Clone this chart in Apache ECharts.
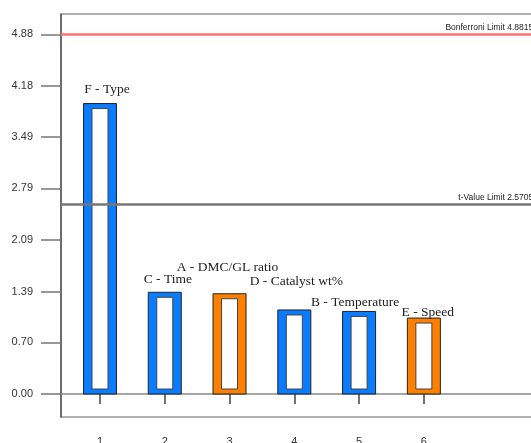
<!DOCTYPE html>
<html>
<head>
<meta charset="utf-8">
<script src="https://cdn.jsdelivr.net/npm/echarts@6/dist/echarts.min.js"></script>
<style>html,body{margin:0;padding:0;background:#fff;overflow:hidden}#c{width:531px;height:443px}</style>
</head>
<body>
<div id="c"></div>
<script>
const ranks = [1, 2, 3, 4, 5, 6];
const effectNames = ['F - Type', 'C - Time', 'A - DMC/GL ratio', 'D - Catalyst wt%', 'B - Temperature', 'E - Speed'];
const tValues = [3.94, 1.38, 1.36, 1.14, 1.12, 1.03];
const effectSign = ['pos', 'pos', 'neg', 'pos', 'pos', 'neg'];
const yTicks = [0.00, 0.70, 1.39, 2.09, 2.79, 3.49, 4.18, 4.88];
const xTicks = [1, 2, 3, 4, 5, 6];
const bonferroniLimit = 4.88159;
const tValueLimit = 2.57058;

// label layout (pixel offsets from bar top centre), style only
const labelLift = [14, 13, 26, 29, 9, 6];
const labelShift = [7, 3, -2, 2, -4, 4];
const signColor = { pos: '#0a7cff', neg: '#ff8000' };

const chart = echarts.init(document.getElementById('c'));
const data = ranks.map((r, i) => [r, tValues[i], i]);

chart.setOption({
  animation: false,
  backgroundColor: '#fff',
  grid: { left: 61, top: 14, width: 479, height: 403, show: true, borderColor: '#999', borderWidth: 1.5,
    outerBoundsMode: 'none', containLabel: false },
  xAxis: {
    type: 'value', min: 0.398, max: 7.793,
    splitLine: { show: false },
    axisLine: { show: true, lineStyle: { color: '#888', width: 1.5 } },
    axisTick: { show: true, length: 10, lineStyle: { color: '#444', width: 1.5 }, customValues: xTicks },
    axisLabel: { customValues: xTicks, margin: 19, fontSize: 11, color: '#333', fontFamily: 'Liberation Sans' }
  },
  yAxis: {
    type: 'value', min: -0.312, max: 5.155,
    splitLine: { show: false },
    axisLine: { show: true, onZero: false, lineStyle: { color: '#555', width: 1.5 } },
    axisTick: { show: true, length: 20, lineStyle: { color: '#777', width: 1.5 }, customValues: yTicks },
    axisLabel: { customValues: yTicks, margin: 28, fontSize: 11, color: '#333', fontFamily: 'Liberation Sans',
      formatter: v => v.toFixed(2) }
  },
  series: [
    {
      type: 'custom',
      data: data,
      clip: false,
      renderItem: function (params, api) {
        const idx = api.value(2);
        const top = api.coord([api.value(0), api.value(1)]);
        const base = api.coord([api.value(0), 0]);
        const w = 33;
        const x0 = top[0] - w / 2;
        const h = base[1] - top[1];
        const col = signColor[effectSign[idx]];
        return {
          type: 'group',
          children: [
            { type: 'rect', shape: { x: x0, y: top[1], width: w, height: h },
              style: { fill: col, stroke: '#222', lineWidth: 1 } },
            { type: 'rect', shape: { x: x0 + 8.5, y: top[1] + 5, width: w - 17, height: h - 10 },
              style: { fill: '#fff', stroke: '#444', lineWidth: 1 } },
            { type: 'text', style: { text: effectNames[idx], x: top[0] + labelShift[idx], y: top[1] - labelLift[idx],
              align: 'center', verticalAlign: 'middle', fontSize: 13.5, fontFamily: 'Liberation Serif', fill: '#222' } }
          ]
        };
      }
    },
    {
      type: 'line', data: [],
      markLine: {
        silent: true, symbol: 'none', animation: false,
        data: [
          { yAxis: bonferroniLimit, lineStyle: { color: '#ff7070', width: 2.5, type: 'solid' },
            label: { formatter: 'Bonferroni Limit ' + bonferroniLimit } },
          { yAxis: tValueLimit, lineStyle: { color: '#777', width: 2.5, type: 'solid' },
            label: { formatter: 't-Value Limit ' + tValueLimit } }
        ],
        label: { position: 'insideEndTop', fontSize: 8.5, color: '#222', fontFamily: 'Liberation Sans', distance: 2 }
      }
    }
  ]
});
</script>
</body>
</html>
